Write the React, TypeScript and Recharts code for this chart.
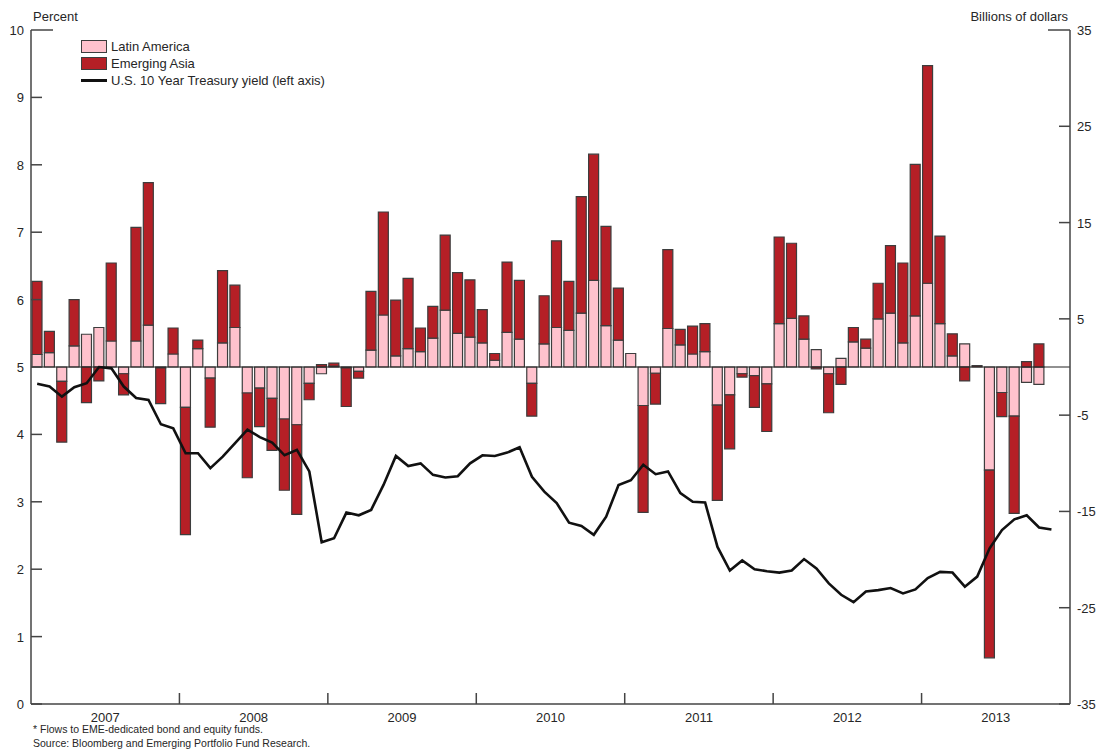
import * as React from "react";
import {
    ComposedChart, Bar, Line, XAxis, YAxis, ReferenceLine,
} from "recharts";

const years = ["2007", "2008", "2009", "2010", "2011", "2012", "2013"];
const monthNames = ["Jan", "Feb", "Mar", "Apr", "May", "Jun", "Jul", "Aug", "Sep", "Oct", "Nov", "Dec"];

// billions of dollars, right axis
const latinAmerica = [
    1.3, 1.5, -1.5, 2.2, 3.4, 4.1, 2.7, -0.7, 2.7, 4.35, -0.1, 1.35,
    -4.2, 1.9, -1.15, 2.5, 4.1, -2.7, -2.2, -3.25, -5.4, -6.0, -1.7, -0.7,
    0.1, -0.1, -0.45, 1.75, 5.4, 1.15, 1.9, 1.6, 3.0, 5.9, 3.5, 3.1,
    2.5, 0.7, 3.6, 2.9, -1.7, 2.4, 4.1, 3.8, 5.6, 9.0, 4.3, 2.8,
    1.4, -4.0, -0.65, 4.0, 2.3, 1.35, 1.6, -3.95, -2.9, -0.7, -0.9, -1.75,
    4.5, 5.05, 2.9, 1.8, -0.7, 0.9, 2.6, 1.95, 5.0, 5.6, 2.5, 5.3,
    8.7, 4.5, 1.15, 2.4, 0, -10.7, -2.65, -5.1, -1.6, -1.8, null, null,
];
const emergingAsia = [
    7.6, 2.2, -6.3, 4.8, -3.7, -1.45, 8.1, -2.2, 11.8, 14.8, -3.7, 2.7,
    -13.2, 0.9, -5.1, 7.5, 4.4, -8.8, -4.0, -5.4, -7.4, -9.3, -1.7, 0.25,
    0.3, -4.0, -0.7, 6.1, 10.7, 5.8, 7.3, 2.45, 3.3, 7.8, 6.3, 5.95,
    3.45, 0.7, 7.3, 6.1, -3.4, 5.0, 9.0, 5.1, 12.1, 13.1, 10.3, 5.4,
    0, -11.1, -3.2, 8.2, 1.6, 2.9, 2.9, -9.9, -5.6, -0.35, -3.3, -4.95,
    9.0, 7.8, 2.4, -0.2, -4.05, -1.8, 1.5, 0.95, 3.7, 7.0, 8.3, 15.75,
    22.6, 9.1, 2.3, -1.45, 0.15, -19.5, -2.5, -10.1, 0.55, 2.4, null, null,
];
// percent, left axis
const treasuryYield = [
    4.75, 4.71, 4.56, 4.70, 4.76, 5.0, 4.98, 4.71, 4.54, 4.51, 4.15, 4.09,
    3.72, 3.72, 3.5, 3.67, 3.87, 4.07, 3.96, 3.88, 3.69, 3.77, 3.45, 2.4,
    2.46, 2.84, 2.8, 2.88, 3.25, 3.68, 3.53, 3.57, 3.4, 3.36, 3.38, 3.57,
    3.69, 3.68, 3.73, 3.81, 3.37, 3.15, 2.98, 2.69, 2.64, 2.51, 2.78, 3.25,
    3.32, 3.55, 3.41, 3.45, 3.13, 3.0, 2.99, 2.33, 1.98, 2.13, 2.0, 1.97,
    1.95, 1.98, 2.15, 2.01, 1.79, 1.62, 1.51, 1.67, 1.69, 1.72, 1.64, 1.70,
    1.87, 1.96, 1.95, 1.74, 1.89, 2.31, 2.58, 2.74, 2.8, 2.62, 2.59, null,
];

const leftTicks = [0, 1, 2, 3, 4, 5, 6, 7, 8, 9, 10];
const rightTicks = [-35, -25, -15, -5, 5, 15, 25, 35];

const months: string[] = [];
years.forEach((y) => monthNames.forEach((m) => months.push(m + " " + y)));

// year boundary marks sit before January, year labels sit after June
const yearMarks = years.slice(1).map((y) => "Jan " + y);
const yearMids = years.map((y) => "Jun " + y);

const data = months.map((month, i) => ({
    month,
    latam: latinAmerica[i],
    asia: emergingAsia[i],
    yield: treasuryYield[i],
}));

const PINK = "#ffc2cd";
const RED = "#b51f26";
const EDGE = "#3d3d3d";
const AXIS = "#444";
const TEXT = "#262626";
const FONT = "'Liberation Sans', Arial, sans-serif";

const LeftTick = (props: any) => {
    const {x, y, payload} = props;
    const len = payload.value === 10 ? 22 : 11;
    return (
        <g>
            <line x1={x} x2={x + len} y1={y} y2={y} stroke={AXIS} strokeWidth={1.5}/>
            <text x={x - 7} y={y + 5} textAnchor="end" fill={TEXT} fontSize={13} fontFamily={FONT}>
                {payload.value}
            </text>
        </g>
    );
};

const RightTick = (props: any) => {
    const {x, y, payload} = props;
    const len = payload.value === 35 ? 22 : 11;
    return (
        <g>
            <line x1={x} x2={x - len} y1={y} y2={y} stroke={AXIS} strokeWidth={1.5}/>
            <text x={x + 7} y={y + 5} textAnchor="start" fill={TEXT} fontSize={13} fontFamily={FONT}>
                {payload.value}
            </text>
        </g>
    );
};

const YearTick = (props: any) => {
    const {x, y, payload} = props;
    const half = payload.offset || 0;
    const v: string = payload.value;
    if (v.startsWith("Jan")) {
        return <line x1={x - half} x2={x - half} y1={y} y2={y - 11} stroke={AXIS} strokeWidth={1.5}/>;
    }
    return (
        <text x={x + half} y={y + 18} textAnchor="middle" fill={TEXT} fontSize={13} fontFamily={FONT}>
            {v.slice(4)}
        </text>
    );
};

const legendRows = [
    {label: "Latin America", kind: "box", color: PINK},
    {label: "Emerging Asia", kind: "box", color: RED},
    {label: "U.S. 10 Year Treasury yield (left axis)", kind: "line", color: "#111"},
];

export default function App() {
    return (
        <div style={{position: "absolute", left: 0, top: 0, width: 1101, height: 749,
            fontFamily: FONT, color: TEXT, background: "#fff"}}>
            <ComposedChart width={1101} height={749} data={data} stackOffset="sign"
                margin={{top: 30, right: 30, bottom: 44, left: 30}}>
                <XAxis dataKey="month" ticks={[...yearMarks, ...yearMids]} interval={0} height={1}
                    tickSize={0} tickMargin={0} tickLine={false} tick={YearTick}
                    axisLine={{stroke: AXIS, strokeWidth: 1.5}}/>
                <YAxis yAxisId="l" orientation="left" domain={[0, 10]} ticks={leftTicks}
                    interval={0} width={1} tickSize={0} tickMargin={0} tickLine={false}
                    tick={LeftTick} axisLine={{stroke: AXIS, strokeWidth: 1.5}}/>
                <YAxis yAxisId="r" orientation="right" domain={[-35, 35]} ticks={rightTicks}
                    interval={0} width={1} tickSize={0} tickMargin={0} tickLine={false}
                    tick={RightTick} axisLine={{stroke: AXIS, strokeWidth: 1.5}}/>
                <Bar yAxisId="r" dataKey="latam" stackId="flows" fill={PINK}
                    stroke={EDGE} strokeWidth={1.2} barSize={10} isAnimationActive={false}/>
                <Bar yAxisId="r" dataKey="asia" stackId="flows" fill={RED}
                    stroke={EDGE} strokeWidth={1.2} barSize={10} isAnimationActive={false}/>
                <ReferenceLine yAxisId="r" y={0} stroke="#222" strokeWidth={1}/>
                <Line yAxisId="l" dataKey="yield" type="linear" stroke="#111"
                    strokeWidth={2.6} dot={false} isAnimationActive={false}/>
            </ComposedChart>

            <div style={{position: "absolute", left: 33, top: 9, fontSize: 13}}>Percent</div>
            <div style={{position: "absolute", right: 33, top: 9, fontSize: 13}}>Billions of dollars</div>

            <div style={{position: "absolute", left: 81, top: 38, fontSize: 13, lineHeight: "17px"}}>
                {legendRows.map((r) => (
                    <div key={r.label} style={{display: "flex", alignItems: "center", height: 17}}>
                        {r.kind === "box" ? (
                            <span style={{width: 24, height: 11, background: r.color,
                                border: "1px solid " + EDGE, marginRight: 4}}/>
                        ) : (
                            <span style={{width: 26, height: 2.5, background: r.color, marginRight: 4}}/>
                        )}
                        <span>{r.label}</span>
                    </div>
                ))}
            </div>

            <div style={{position: "absolute", left: 33, top: 722, fontSize: 10.5, lineHeight: "14px"}}>
                <div>* Flows to EME-dedicated bond and equity funds.</div>
                <div>Source: Bloomberg and Emerging Portfolio Fund Research.</div>
            </div>
        </div>
    );
}
